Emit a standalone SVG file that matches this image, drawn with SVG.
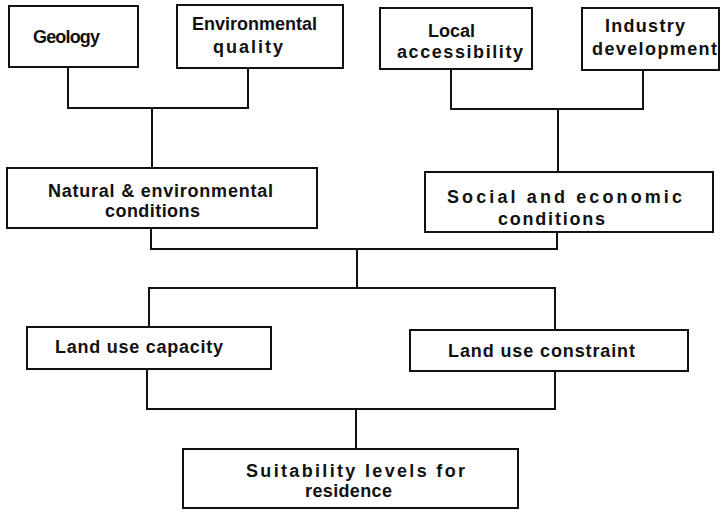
<svg xmlns="http://www.w3.org/2000/svg" width="721" height="512" viewBox="0 0 721 512">
<style>
rect{fill:#fff;stroke:#111;stroke-width:2}
.c path{fill:none;stroke:#111;stroke-width:2}
text{font-family:"Liberation Sans",Arial,sans-serif;font-weight:bold;font-size:18px;fill:#111}
</style>
<rect x="0" y="0" width="721" height="512" style="stroke:none"/>
<g class="c" id="connectors">
<path d="M68 67V108H248V68"/>
<path d="M152 108V168"/>
<path d="M451 69V109H643V70"/>
<path d="M558 109V172"/>
<path d="M151 228V249H357M557 232V249H357"/>
<path d="M357 249V288"/>
<path d="M149 327V288H555V330"/>
<path d="M147 369V409H555V371"/>
<path d="M356 409V449"/>
</g>
<g id="geology"><rect x="9" y="6" width="129" height="61"/><text x="33" y="43" textLength="67" lengthAdjust="spacing">Geology</text></g>
<g id="envquality"><rect x="177" y="5" width="166" height="63"/><text x="192" y="30" textLength="125" lengthAdjust="spacing">Environmental</text><text x="213" y="53" textLength="70" lengthAdjust="spacing">quality</text></g>
<g id="local"><rect x="380" y="8" width="152" height="61"/><text x="428" y="37" textLength="47" lengthAdjust="spacing">Local</text><text x="397" y="58" textLength="126" lengthAdjust="spacing">accessibility</text></g>
<g id="industry"><rect x="582" y="8" width="137" height="62"/><text x="605" y="32" textLength="80" lengthAdjust="spacing">Industry</text><text x="592" y="55" textLength="125" lengthAdjust="spacing">development</text></g>
<g id="natural"><rect x="7" y="168" width="310" height="60"/><text x="48" y="197" textLength="225" lengthAdjust="spacing">Natural &amp; environmental</text><text x="105" y="217" textLength="95" lengthAdjust="spacing">conditions</text></g>
<g id="social"><rect x="425" y="172" width="288" height="60"/><text x="447" y="203" textLength="235" lengthAdjust="spacing">Social and economic</text><text x="498" y="225" textLength="107" lengthAdjust="spacing">conditions</text></g>
<g id="capacity"><rect x="27" y="327" width="244" height="42"/><text x="55" y="353" textLength="168" lengthAdjust="spacing">Land use capacity</text></g>
<g id="constraint"><rect x="410" y="330" width="278" height="41"/><text x="448" y="357" textLength="187" lengthAdjust="spacing">Land use constraint</text></g>
<g id="suitability"><rect x="183" y="449" width="335" height="59"/><text x="246" y="477" textLength="219" lengthAdjust="spacing">Suitability levels for</text><text x="305" y="497" textLength="87" lengthAdjust="spacing">residence</text></g>
</svg>
